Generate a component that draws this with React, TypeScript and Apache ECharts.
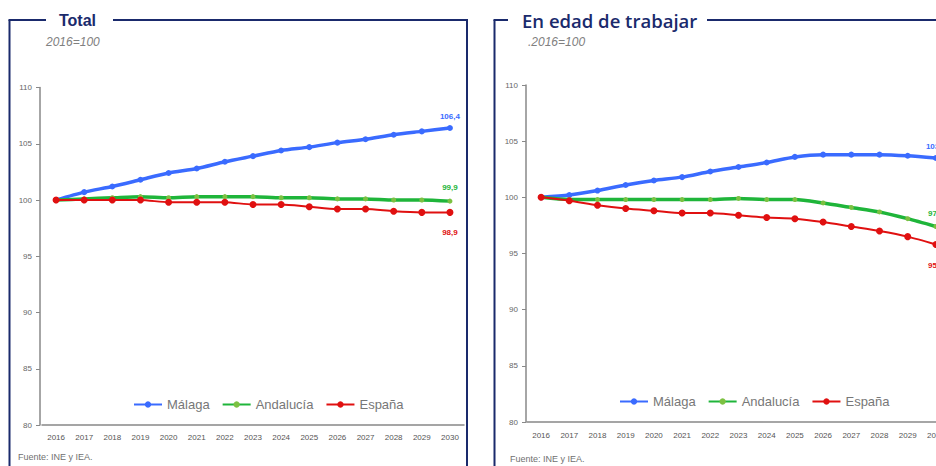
import React, { useEffect, useRef } from "react";
import * as echarts from "echarts";

const years = ["2016", "2017", "2018", "2019", "2020", "2021", "2022", "2023", "2024", "2025", "2026", "2027", "2028", "2029", "2030"];
const yTicks = [80, 85, 90, 95, 100, 105, 110];
const seriesNames = ["Málaga", "Andalucía", "España"];

const totalMalaga = [100, 100.7, 101.2, 101.8, 102.4, 102.8, 103.4, 103.9, 104.4, 104.7, 105.1, 105.4, 105.8, 106.1, 106.4];
const totalAndalucia = [100, 100.1, 100.2, 100.3, 100.2, 100.3, 100.3, 100.3, 100.2, 100.2, 100.1, 100.1, 100.0, 100.0, 99.9];
const totalEspana = [100, 100, 100, 100, 99.8, 99.8, 99.8, 99.6, 99.6, 99.4, 99.2, 99.2, 99.0, 98.9, 98.9];

const workMalaga = [100, 100.2, 100.6, 101.1, 101.5, 101.8, 102.3, 102.7, 103.1, 103.6, 103.8, 103.8, 103.8, 103.7, 103.5];
const workAndalucia = [100, 99.8, 99.8, 99.8, 99.8, 99.8, 99.8, 99.9, 99.8, 99.8, 99.5, 99.1, 98.7, 98.1, 97.4];
const workEspana = [100, 99.7, 99.3, 99.0, 98.8, 98.6, 98.6, 98.4, 98.2, 98.1, 97.8, 97.4, 97.0, 96.5, 95.8];

const BLUE = "#3a6bff";
const GREEN = "#1fb53a";
const GREEN_MK = "#7cc142";
const RED = "#e01010";
const NAVY = "#1a2a6c";
const FONT = "Liberation Sans, Arial, sans-serif";

type Cfg = {
  grid: { left: number; right: number; top: number; bottom: number };
  yOffset: number;
  xMargin: number;
  data: number[][];
  labelPos: string[];
  labelDist: number[];
  legend: { left: number; top: number };
  frame: { x: number; gapStart: number; gapEnd: number; right: number | null; end: number };
  title: { text: string; x: number; font: string; weight: string | number; size: number };
  subtitle: { text: string; x: number };
  footer: { x: number; y: number };
};

function fmt(v: number) {
  return String(v).replace(".", ",");
}

function makeOption(c: Cfg) {
  const colors = [BLUE, GREEN, RED];
  const mk = [BLUE, GREEN_MK, RED];
  const widths = [3.5, 3.5, 2];
  const sizes = [6, 5, 7];
  const series = c.data.map((arr, i) => ({
    type: "line",
    name: seriesNames[i],
    smooth: 0.25,
    symbol: "circle",
    symbolSize: sizes[i],
    lineStyle: { color: colors[i], width: widths[i] },
    itemStyle: { color: mk[i] },
    color: colors[i],
    data: arr.map((v, j) =>
      j === arr.length - 1
        ? {
            value: v,
            label: {
              show: true,
              position: c.labelPos[i],
              distance: c.labelDist[i],
              formatter: () => fmt(v),
              color: colors[i],
              fontSize: 8,
              fontWeight: "bold",
              fontFamily: FONT,
            },
          }
        : v
    ),
  }));

  const f = c.frame;
  const graphic: any[] = [
    { type: "line", shape: { x1: f.x, y1: 20, x2: f.x, y2: 470 }, style: { stroke: NAVY, lineWidth: 2 } },
    { type: "line", shape: { x1: f.x - 1, y1: 20, x2: f.gapStart, y2: 20 }, style: { stroke: NAVY, lineWidth: 2 } },
    { type: "line", shape: { x1: f.gapEnd, y1: 20, x2: f.end, y2: 20 }, style: { stroke: NAVY, lineWidth: 2 } },
    {
      type: "text",
      x: c.title.x,
      y: 20,
      style: {
        text: c.title.text,
        fill: NAVY,
        font: `${c.title.weight} ${c.title.size}px ${c.title.font}`,
        verticalAlign: "middle",
        align: "left",
      },
    },
    {
      type: "text",
      x: c.subtitle.x,
      y: 42,
      style: {
        text: c.subtitle.text,
        fill: "#808080",
        font: `italic 12px ${FONT}`,
        verticalAlign: "middle",
        align: "left",
      },
    },
    {
      type: "text",
      x: c.footer.x,
      y: c.footer.y,
      style: {
        text: "Fuente: INE y IEA.",
        fill: "#707070",
        font: `9px ${FONT}`,
        verticalAlign: "middle",
        align: "left",
      },
    },
  ];
  if (f.right !== null) {
    graphic.push({ type: "line", shape: { x1: f.right, y1: 19, x2: f.right, y2: 470 }, style: { stroke: NAVY, lineWidth: 2 } });
  }

  return {
    animation: false,
    backgroundColor: "#ffffff",
    grid: { ...c.grid, containLabel: false },
    legend: {
      left: c.legend.left,
      top: c.legend.top,
      itemWidth: 28,
      itemHeight: 8,
      itemGap: 12,
      textStyle: { color: "#777777", fontSize: 13, fontFamily: FONT },
      data: seriesNames,
    },
    xAxis: {
      type: "category",
      data: years,
      boundaryGap: true,
      axisLine: { lineStyle: { color: "#888888", width: 1.5 } },
      axisTick: { show: false },
      axisLabel: { color: "#555555", fontSize: 8, fontFamily: FONT, interval: 0, margin: c.xMargin },
    },
    yAxis: {
      type: "value",
      min: yTicks[0],
      max: yTicks[yTicks.length - 1],
      interval: 5,
      offset: c.yOffset,
      axisLine: { show: true, lineStyle: { color: "#888888", width: 1.5 } },
      axisTick: { show: true, length: 4, lineStyle: { color: "#888888" } },
      splitLine: { show: false },
      axisLabel: { color: "#666666", fontSize: 8, fontFamily: FONT, margin: 8 },
    },
    graphic,
    series,
  };
}

const leftCfg: Cfg = {
  grid: { left: 42, right: 6, top: 87.5, bottom: 41 },
  yOffset: 2,
  xMargin: 8,
  data: [totalMalaga, totalAndalucia, totalEspana],
  labelPos: ["top", "top", "bottom"],
  labelDist: [5, 7, 13],
  legend: { left: 128, top: 393 },
  frame: { x: 9.5, gapStart: 46, gapEnd: 113, right: 467, end: 468 },
  title: { text: "Total", x: 59, font: FONT, weight: "bold", size: 16 },
  subtitle: { text: "2016=100", x: 46 },
  footer: { x: 18, y: 457 },
};

const rightCfg: Cfg = {
  grid: { left: 57, right: 40, top: 85, bottom: 44 },
  yOffset: 1,
  xMargin: 9,
  data: [workMalaga, workAndalucia, workEspana],
  labelPos: ["top", "top", "bottom"],
  labelDist: [5, 7, 13],
  legend: { left: 144, top: 390 },
  frame: { x: 24.5, gapStart: 38, gapEnd: 237, right: null, end: 520 },
  title: { text: "En edad de trabajar", x: 52, font: "Open Sans, sans-serif", weight: 600, size: 18.5 },
  subtitle: { text: ".2016=100", x: 58 },
  footer: { x: 40, y: 459 },
};

function Panel({ left, width, cfg }: { left: number; width: number; cfg: Cfg }) {
  const ref = useRef<HTMLDivElement>(null);
  useEffect(() => {
    if (!ref.current) return;
    const chart = echarts.init(ref.current, undefined, { renderer: "svg" });
    chart.setOption(makeOption(cfg) as any);
    return () => chart.dispose();
  }, [cfg]);
  return <div ref={ref} style={{ position: "absolute", left, top: 0, width, height: 466 }} />;
}

export default function App() {
  return (
    <div style={{ position: "absolute", left: 0, top: 0, width: 936, height: 466, overflow: "hidden", background: "#ffffff" }}>
      <Panel left={0} width={470} cfg={leftCfg} />
      <Panel left={470} width={520} cfg={rightCfg} />
    </div>
  );
}
